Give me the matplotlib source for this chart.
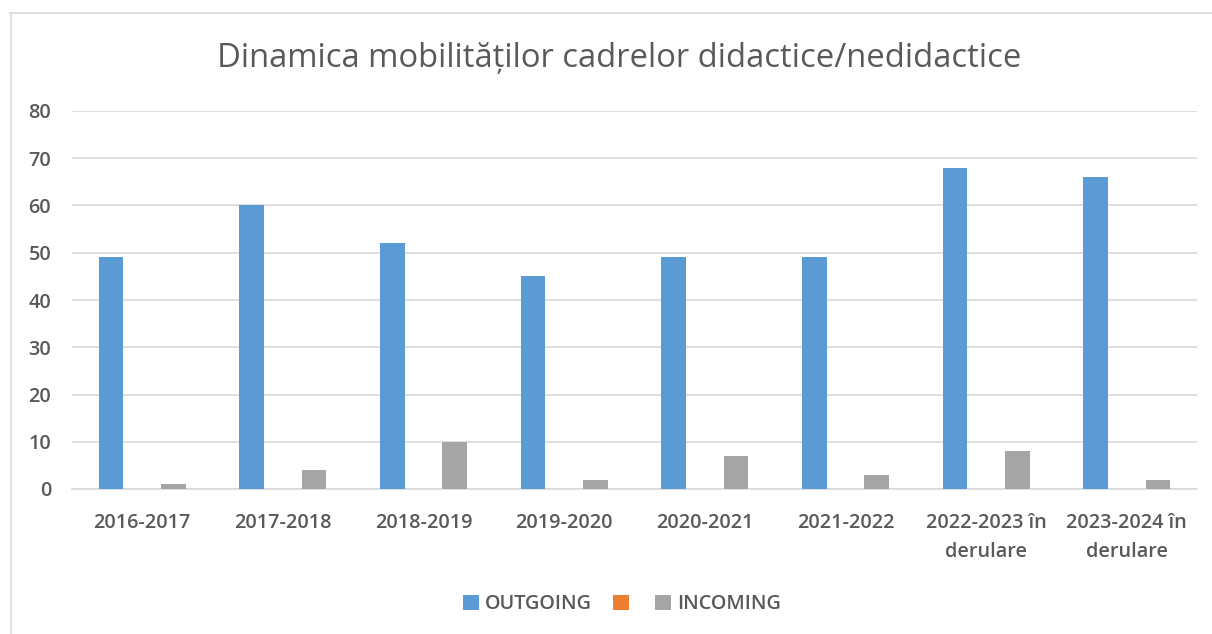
import matplotlib
matplotlib.use("Agg")
import matplotlib.pyplot as plt
import numpy as np
from matplotlib.patches import Patch
from matplotlib.lines import Line2D

categories = ["2016-2017", "2017-2018", "2018-2019", "2019-2020", "2020-2021",
              "2021-2022", "2022-2023 în\nderulare", "2023-2024 în\nderulare"]
outgoing = [49, 60, 52, 45, 49, 49, 68, 66]
series2 = [0, 0, 0, 0, 0, 0, 0, 0]
incoming = [1, 4, 10, 2, 7, 3, 8, 2]
series_labels = ["OUTGOING", "", "INCOMING"]
colors = ["#5B9BD5", "#ED7D31", "#A5A5A5"]
yticks = [0, 10, 20, 30, 40, 50, 60, 70, 80]

W, H = 1212, 634
fig = plt.figure(figsize=(W / 100, H / 100), dpi=100)
fig.patch.set_facecolor("white")
ax = fig.add_axes([72 / W, 1 - 489 / H, (1197 - 72) / W, (489 - 111) / H])

font = "Open Sans"
txt = "#595959"
fs = 14.3
x = np.arange(len(categories))
bw = 0.175
off = 0.222
for i, (vals, col) in enumerate(zip([outgoing, series2, incoming], colors)):
    ax.bar(x + (i - 1) * off, vals, width=bw, color=col, zorder=3)

ax.set_xlim(-0.5, len(categories) - 0.5)
ax.set_ylim(0, 80)
ax.set_yticks(yticks)
ax.set_yticklabels([str(v) for v in yticks], fontfamily=font, fontsize=fs,
                   color=txt, fontweight="semibold")
ax.set_xticks(x)
ax.set_xticklabels(categories, fontfamily=font, fontsize=fs, color=txt,
                   fontweight="semibold", linespacing=1.65)
ax.tick_params(axis="both", length=0)
ax.tick_params(axis="y", pad=15)
ax.tick_params(axis="x", pad=17)
ax.grid(axis="y", color="#D9D9D9", linewidth=1.2, zorder=0)
for s in ["top", "right", "left"]:
    ax.spines[s].set_visible(False)
ax.spines["bottom"].set_color("#D9D9D9")
ax.spines["bottom"].set_linewidth(1.2)

fig.text(619 / W, 1 - 58 / H, "Dinamica mobilităților cadrelor didactice/nedidactice",
         ha="center", va="center", fontfamily=font, fontsize=23.6, color=txt)

handles = [Patch(facecolor=c, edgecolor="none") for c in colors]
leg = fig.legend(handles, series_labels, loc="center", bbox_to_anchor=(622 / W, 1 - 604 / H),
                 ncol=3, frameon=False, handlelength=0.8, handleheight=0.8,
                 handletextpad=0.3, columnspacing=1.05,
                 prop={"family": font, "size": fs, "weight": "semibold"})
for t in leg.get_texts():
    t.set_color(txt)

# outer border lines
fig.add_artist(Line2D([10 / W, 1], [1 - 12.5 / H, 1 - 12.5 / H], color="#D9D9D9", linewidth=1.2))
fig.add_artist(Line2D([10.5 / W, 10.5 / W], [0, 1 - 12.5 / H], color="#D9D9D9", linewidth=1.2))

fig.savefig("out.png", dpi=100, facecolor="white")
